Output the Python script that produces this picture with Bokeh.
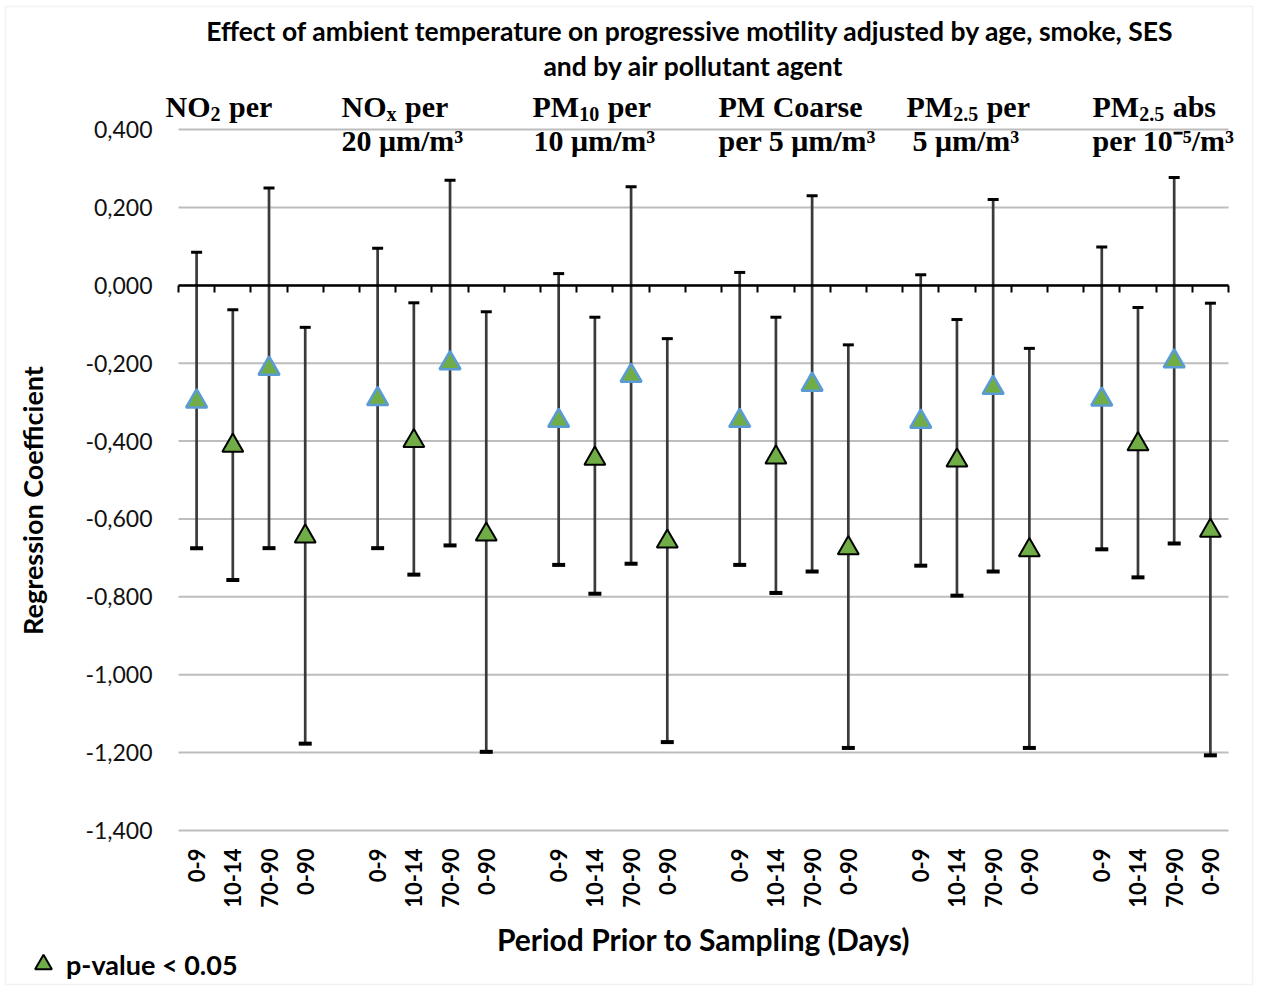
import math
from bokeh.plotting import figure
from bokeh.core.properties import value
from bokeh.models import (Range1d, FixedTicker, LinearAxis, Label, BoxAnnotation,
                          Legend, LegendItem, ColumnDataSource)
from bokeh.embed import file_html
from bokeh.resources import INLINE

# ---------------- data ----------------
title_lines = ["Effect of  ambient temperature on progressive motility adjusted by age, smoke, SES",
               "and by air pollutant agent"]
group_line1 = ["NO₂ per", "NOₓ per", "PM₁₀ per", "PM Coarse", "PM₂.₅ per", "PM₂.₅ abs"]
group_line2 = ["", "20 μm/m³", "10 μm/m³", "per 5 μm/m³", "5 μm/m³", "per 10⁻⁵/m³"]
periods = ["0-9", "10-14", "70-90", "0-90"]
significant = [False, True, False, True]

no2_coef = [-0.298, -0.412, -0.214, -0.645]
no2_low = [-0.675, -0.757, -0.675, -1.177]
no2_high = [0.085, -0.063, 0.250, -0.108]

nox_coef = [-0.292, -0.400, -0.200, -0.640]
nox_low = [-0.675, -0.743, -0.668, -1.198]
nox_high = [0.095, -0.045, 0.270, -0.068]

pm10_coef = [-0.348, -0.445, -0.232, -0.658]
pm10_low = [-0.718, -0.792, -0.715, -1.173]
pm10_high = [0.030, -0.082, 0.253, -0.137]

pmc_coef = [-0.348, -0.442, -0.255, -0.675]
pmc_low = [-0.718, -0.790, -0.735, -1.188]
pmc_high = [0.033, -0.082, 0.230, -0.153]

pm25_coef = [-0.350, -0.450, -0.263, -0.680]
pm25_low = [-0.720, -0.797, -0.735, -1.188]
pm25_high = [0.027, -0.088, 0.220, -0.162]

pm25abs_coef = [-0.293, -0.408, -0.195, -0.630]
pm25abs_low = [-0.678, -0.750, -0.663, -1.207]
pm25abs_high = [0.098, -0.057, 0.277, -0.046]

y_ticks = [-1.4, -1.2, -1.0, -0.8, -0.6, -0.4, -0.2, 0.0, 0.2, 0.4]
y_tick_labels = ["-1,400", "-1,200", "-1,000", "-0,800", "-0,600", "-0,400",
                 "-0,200", "0,000", "0,200", "0,400"]
x_title = "Period Prior to Sampling (Days)"
y_title = "Regression Coefficient"
legend_label = "p-value < 0.05"

coefs = [no2_coef, nox_coef, pm10_coef, pmc_coef, pm25_coef, pm25abs_coef]
lows = [no2_low, nox_low, pm10_low, pmc_low, pm25_low, pm25abs_low]
highs = [no2_high, nox_high, pm10_high, pmc_high, pm25_high, pm25abs_high]

# ---------------- layout (pixels) ----------------
W, H = 1259, 987
FL, FR, FT, FB = 178, 1228, 129, 830   # plotting area inside the canvas

SLOTS = 5  # 4 periods + 1 gap
n_groups = len(coefs)
n_slots = n_groups * SLOTS - 1
ymin, ymax = y_ticks[0], y_ticks[-1]
sx = (FR - FL) / n_slots
sy = (FB - FT) / (ymax - ymin)


def X(px):
    return (px - FL) / sx


def Y(py):
    return ymax - (py - FT) / sy


xs, ys, lo, hi, sig, labs = [], [], [], [], [], []
for g in range(n_groups):
    for k in range(len(periods)):
        xs.append(g * SLOTS + k + 0.5)
        ys.append(coefs[g][k])
        lo.append(lows[g][k])
        hi.append(highs[g][k])
        sig.append(significant[k])
        labs.append(periods[k])

src_all = ColumnDataSource(dict(x=xs, y=ys, lo=lo, hi=hi, lab=labs,
                                ylab=[Y(848)] * len(xs)))
src_sig = ColumnDataSource(dict(x=[a for a, s in zip(xs, sig) if s],
                                y=[a for a, s in zip(ys, sig) if s]))
src_ns = ColumnDataSource(dict(x=[a for a, s in zip(xs, sig) if not s],
                               y=[a for a, s in zip(ys, sig) if not s]))

p = figure(width=W, height=H,
           x_range=Range1d(X(0), X(W)), y_range=Range1d(Y(H), Y(0)),
           x_axis_location=None, y_axis_location=None,
           output_backend="svg", toolbar_location=None,
           min_border=0)
p.outline_line_color = None
p.background_fill_color = "white"
p.border_fill_color = "white"
p.xgrid.visible = False
p.ygrid.visible = False

SANS = "Lato"
SERIF = "Liberation Serif"

# chart border
p.add_layout(BoxAnnotation(left=X(5), right=X(1252), top=Y(6), bottom=Y(984),
                           fill_alpha=0, line_color="#d4d4d4", line_width=1.5))

# horizontal grid lines
p.segment(x0=[0] * len(y_ticks), x1=[n_slots] * len(y_ticks), y0=y_ticks, y1=y_ticks,
          line_color="#bdbdbd", line_width=2)

# y axis labels
yax = LinearAxis(fixed_location=0, bounds=(ymin, ymax),
                 ticker=FixedTicker(ticks=y_ticks),
                 major_label_overrides=dict(zip(y_ticks, y_tick_labels)))
yax.axis_line_color = None
yax.major_tick_line_color = None
yax.minor_tick_line_color = None
yax.major_label_text_font = SANS
yax.major_label_text_font_size = "23px"
yax.major_label_text_color = "#111111"
yax.major_label_standoff = 20
p.add_layout(yax, "left")

# zero axis line with boundary ticks
bounds = list(range(n_slots + 1))
zax = LinearAxis(fixed_location=0, bounds=(0, n_slots), ticker=FixedTicker(ticks=bounds),
                 major_label_overrides={b: "" for b in bounds})
zax.axis_line_color = "black"
zax.axis_line_width = 2.5
zax.major_tick_line_color = "black"
zax.major_tick_line_width = 2
zax.major_tick_out = 7
zax.major_tick_in = 0
zax.minor_tick_line_color = None
zax.major_label_text_font_size = "1px"
p.add_layout(zax, "below")

# category labels (rotated, reading upwards)
p.text(x="x", y="ylab", text="lab", source=src_all, angle=math.pi / 2,
       text_align="right", text_baseline="middle",
       text_font=value(SANS), text_font_size=value("22px"),
       text_font_style="bold", text_color="#000000")

# error bars
p.segment(x0="x", y0="lo", x1="x", y1="hi", source=src_all,
          line_color="#3a3a3a", line_width=2.7)
p.scatter(x="x", y="lo", source=src_all, marker="dash", size=13,
          line_color="black", line_width=4)
p.scatter(x="x", y="hi", source=src_all, marker="dash", size=11,
          line_color="black", line_width=3)

# triangles
p.scatter(x="x", y="y", source=src_ns, marker="triangle", size=21,
          fill_color="#70AD47", line_color="#5B9BD5", line_width=2.5)
r_sig = p.scatter(x="x", y="y", source=src_sig, marker="triangle", size=21,
                  fill_color="#70AD47", line_color="black", line_width=2)

# title
for t, py in zip(title_lines, [30, 65]):
    p.add_layout(Label(x=X(693), y=Y(py), text=t, text_align="center",
                       text_baseline="middle", text_font=SANS, text_font_size="26.5px",
                       text_font_style="bold", text_color="#000000"))

# axis titles
p.add_layout(Label(x=X(703), y=Y(938), text=x_title, text_align="center",
                   text_baseline="middle", text_font=SANS, text_font_size="30px",
                   text_font_style="bold", text_color="#000000"))
p.add_layout(Label(x=X(32), y=Y(500), text=y_title, text_align="center",
                   text_baseline="middle", angle=math.pi / 2, text_font=SANS,
                   text_font_size="27px", text_font_style="bold", text_color="#000000"))

# group headers (subscripts composed as smaller, lowered text)
SUB = {"₀": "0", "₁": "1", "₂": "2", "₃": "3", "₄": "4", "₅": "5", "₆": "6",
       "₇": "7", "₈": "8", "₉": "9", "ₓ": "x"}
TB = {"P": .611, "M": .944, "N": .722, "O": .778, "0": .5, "1": .5, "2": .5,
      "5": .5, "x": .5, ".": .25, " ": .25}
FS, FS_SUB = 30, 20


def runs(text):
    out, cur, is_sub = [], "", False
    for i, c in enumerate(text):
        c_sub = c in SUB or (c == "." and i > 0 and text[i - 1] in SUB
                             and i + 1 < len(text) and text[i + 1] in SUB)
        if c_sub != is_sub and cur:
            out.append((cur, is_sub))
            cur = ""
        is_sub = c_sub
        cur += SUB.get(c, c)
    if cur:
        out.append((cur, is_sub))
    return out


def header(text, px, base_py):
    for s, is_sub in runs(text):
        size = FS_SUB if is_sub else FS
        lead = len(s) - len(s.lstrip(" "))
        px += lead * TB[" "] * size
        s = s.lstrip(" ")
        p.add_layout(Label(x=X(px), y=Y(base_py + (7 if is_sub else 0)), text=s,
                           text_align="left", text_baseline="alphabetic",
                           text_font=SERIF, text_font_size=f"{size}px",
                           text_font_style="bold", text_color="#000000"))
        px += sum(TB.get(c, .5) for c in s) * size + (1 if is_sub else 0)


x1_px = [165, 341, 532, 718, 906, 1092]
x2_px = [165, 341, 533, 718, 912, 1092]
for g in range(n_groups):
    header(group_line1[g], x1_px[g], 106)
    if group_line2[g]:
        header(group_line2[g], x2_px[g], 140)

# legend
leg = Legend(items=[LegendItem(label=legend_label, renderers=[r_sig])],
             location=(22, 2))
leg.border_line_color = None
leg.background_fill_alpha = 0
leg.padding = 0
leg.margin = 0
leg.glyph_width = 42
leg.glyph_height = 42
leg.label_standoff = 2
leg.label_text_font = SANS
leg.label_text_font_size = "27px"
leg.label_text_font_style = "bold"
leg.label_text_color = "#000000"
p.add_layout(leg, "center")

open("out.html", "w").write(file_html(p, INLINE))
